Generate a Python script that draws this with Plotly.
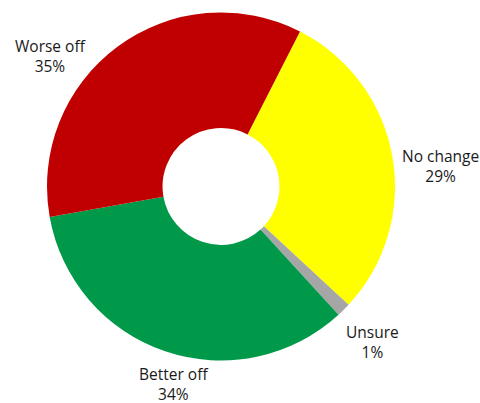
import plotly.graph_objects as go

labels = ["No change", "Unsure", "Better off", "Worse off"]
values = [29.4, 1.3, 34.0, 35.3]
colors = ["#FFFF00", "#A6A6A6", "#00994A", "#C00000"]

W, H = 480, 403
cx, cy, R = 221, 186.5, 174

fig = go.Figure(go.Pie(
    labels=labels, values=values, sort=False, direction="clockwise",
    rotation=27, hole=0.336, textinfo="none", hoverinfo="label+percent",
    marker=dict(colors=colors, line=dict(width=0)),
    domain=dict(x=[(cx - R) / W, (cx + R) / W], y=[1 - (cy + R) / H, 1 - (cy - R) / H]),
    showlegend=False,
))

# label block centres in pixels
label_pos = {"No change": (440.5, 165.5), "Unsure": (372.5, 341.5),
             "Better off": (173.5, 384), "Worse off": (50.5, 55.5)}
total = sum(values)
font = dict(family="Open Sans", size=15.5, color="#1a1a1a")
for lab, v in zip(labels, values):
    px, py = label_pos[lab]
    fig.add_annotation(
        x=px / W, y=1 - py / H, xref="paper", yref="paper",
        text=f"{lab}<br>{round(100 * v / total)}%", showarrow=False,
        xanchor="center", yanchor="middle", align="center", font=font,
    )

fig.update_layout(width=W, height=H, margin=dict(l=0, r=0, t=0, b=0),
                  paper_bgcolor="white", plot_bgcolor="white")
fig.write_html("out.html", config={"displayModeBar": False},
               post_script="document.body.style.margin='0';")
